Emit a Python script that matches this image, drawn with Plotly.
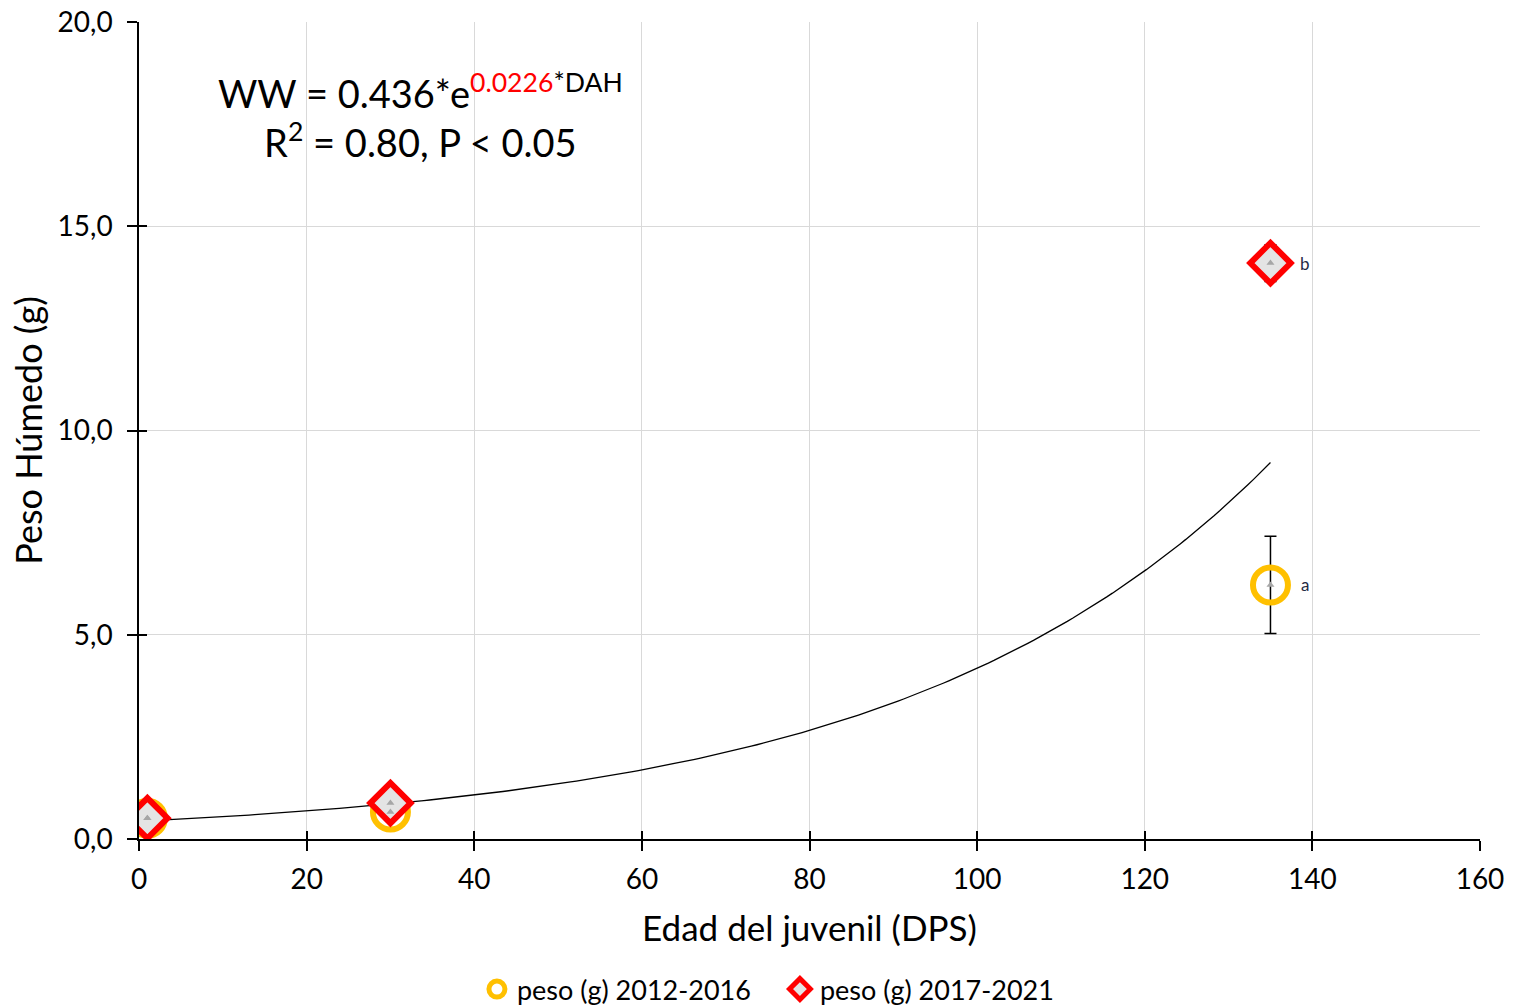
import numpy as np
import plotly.graph_objects as go

# Juvenile age (days post-settlement) and wet weight (g)
edad = [1, 30, 135]
peso_2012_2016 = [0.51, 0.66, 6.22]
err_2012_2016 = [0, 0, 1.19]
peso_2017_2021 = [0.51, 0.88, 14.1]
err_2017_2021 = [0, 0, 0.45]
letras_x = [135]
letras_2012_2016 = ["a"]
letras_2017_2021 = ["b"]

# Exponential fit: WW = a * exp(b * DAH)
coef_a = 0.436
coef_b = 0.0226
ajuste_x = np.linspace(1, 135, 200)
ajuste_y = coef_a * np.exp(coef_b * ajuste_x)

FONT = "Lato, Carlito, Calibri, sans-serif"
GRID = "#D9D9D9"

fig = go.Figure()

fig.add_trace(go.Scatter(
    x=ajuste_x, y=ajuste_y, mode="lines",
    line=dict(color="black", width=1.3),
    showlegend=False, hoverinfo="skip",
))

fig.add_trace(go.Scatter(
    x=edad, y=peso_2012_2016, mode="markers", name="peso (g) 2012-2016",
    marker=dict(symbol="circle-open", size=35, color="#FFC000",
                line=dict(color="#FFC000", width=6)),
    error_y=dict(type="data", array=err_2012_2016, color="black",
                 thickness=1.5, width=6),
))

fig.add_trace(go.Scatter(
    x=edad, y=peso_2017_2021, mode="markers", name="peso (g) 2017-2021",
    marker=dict(symbol="diamond", size=31, color="#E4E4E4",
                line=dict(color="#FF0000", width=6)),
    error_y=dict(type="data", array=err_2017_2021, color="black",
                 thickness=1.5, width=6),
))

# small grey centre marks
fig.add_trace(go.Scatter(
    x=edad + edad, y=peso_2012_2016 + peso_2017_2021, mode="markers",
    marker=dict(symbol="triangle-up", size=7, color="#A6A6A6"),
    showlegend=False, hoverinfo="skip",
))

for xv, yv, txt in zip(letras_x, peso_2012_2016[-1:], letras_2012_2016):
    fig.add_annotation(x=xv, y=yv, text=txt, showarrow=False, xshift=35,
                       font=dict(family=FONT, size=17, color="#1F2A44"))
for xv, yv, txt in zip(letras_x, peso_2017_2021[-1:], letras_2017_2021):
    fig.add_annotation(x=xv, y=yv, text=txt, showarrow=False, xshift=35,
                       font=dict(family=FONT, size=17, color="#1F2A44"))

fig.add_annotation(
    x=33.6, y=17.72, xref="x", yref="y", showarrow=False, align="center",
    text=("WW = 0.436*e<sup><span style='color:#FF0000'>0.0226</span>*DAH</sup>"
          "<br>R<sup>2</sup> = 0.80, P &lt; 0.05"),
    font=dict(family=FONT, size=38, color="black"),
)

axis_common = dict(
    showline=True, linecolor="black", linewidth=1.5,
    ticks="outside", ticklen=10, tickwidth=1.5, tickcolor="black",
    gridcolor=GRID, gridwidth=1, zeroline=False, automargin=False,
    tickfont=dict(family=FONT, size=28, color="black"),
)

fig.update_layout(
    width=1521, height=1008,
    margin=dict(l=139, r=41, t=22, b=169, autoexpand=False),
    plot_bgcolor="white", paper_bgcolor="white",
    xaxis=dict(range=[0, 160], dtick=20, tick0=0, ticklabelstandoff=5,
               title=dict(text="Edad del juvenil (DPS)", standoff=22,
                          font=dict(family=FONT, size=35, color="black")),
               **axis_common),
    yaxis=dict(range=[0, 20], dtick=5, tick0=0, tickformat=".1f",
               ticklabelstandoff=9,
               title=dict(text="Peso Húmedo (g)", standoff=4,
                          font=dict(family=FONT, size=36, color="black")),
               **axis_common),
    # inner halves of the crossing tick marks
    xaxis2=dict(overlaying="x", range=[0, 160], dtick=20, tick0=0,
                ticks="inside", ticklen=8, tickwidth=1.5, tickcolor="black",
                showticklabels=False, showgrid=False, showline=False,
                zeroline=False, anchor="y2", automargin=False),
    yaxis2=dict(overlaying="y", range=[0, 20], dtick=5, tick0=0,
                ticks="inside", ticklen=8, tickwidth=1.5, tickcolor="black",
                showticklabels=False, showgrid=False, showline=False,
                zeroline=False, anchor="x2", automargin=False),
    separators=",.",
    legend=dict(orientation="h", x=0.252, xanchor="left", y=-0.2142,
                yanchor="bottom", font=dict(family=FONT, size=27, color="black"),
                itemsizing="trace", itemwidth=30, tracegroupgap=0,
                entrywidth=258, entrywidthmode="pixels"),
    showlegend=True,
)

# dummy trace to activate the overlay axes
fig.add_trace(go.Scatter(x=[None], y=[None], xaxis="x2", yaxis="y2",
                         showlegend=False, hoverinfo="skip"))

fig.write_html("out.html")
